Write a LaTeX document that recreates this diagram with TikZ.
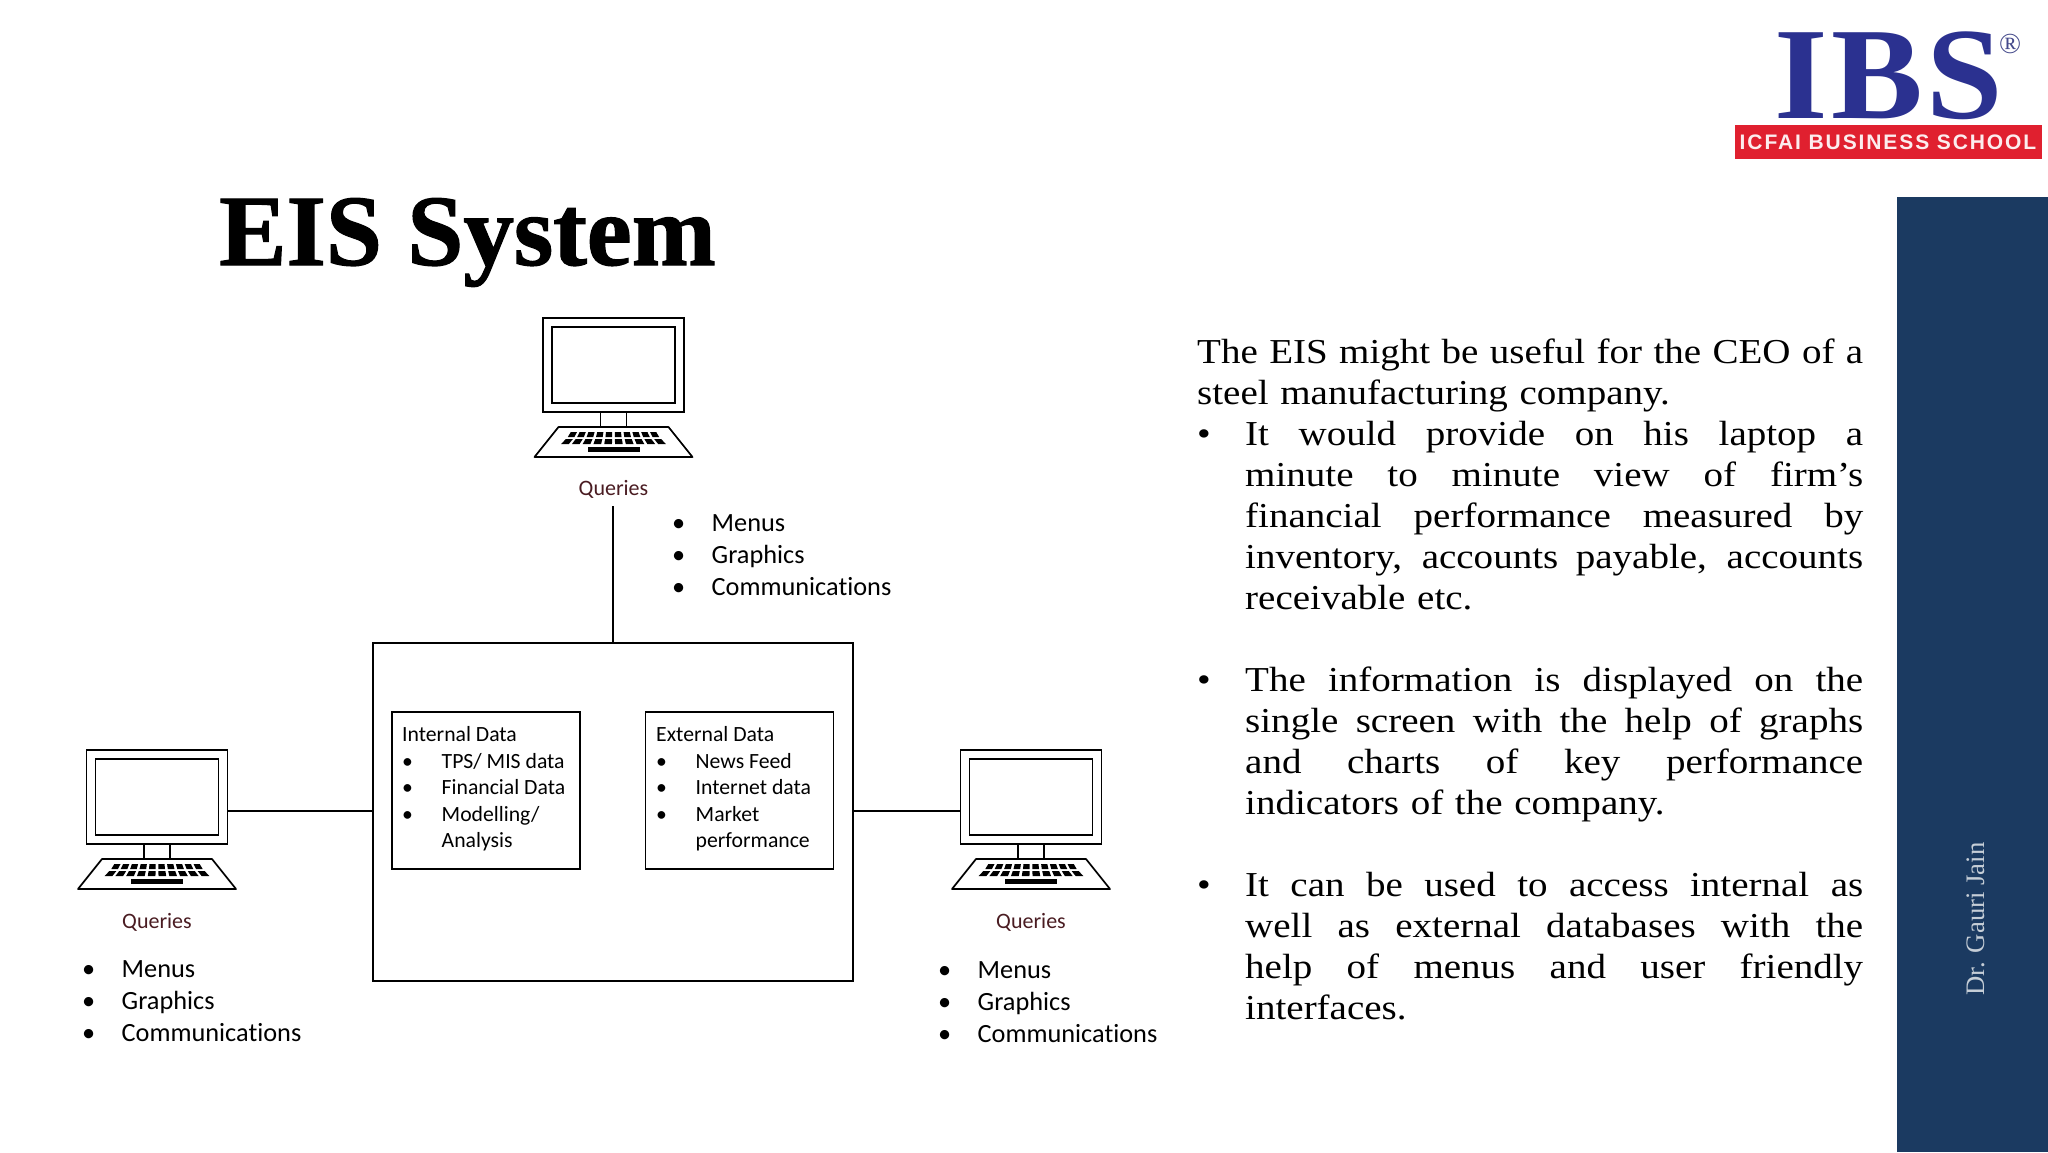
\documentclass[tikz,border=0pt]{standalone}
\usepackage{fontspec}
\setmainfont[Ligatures=CommonOff]{Carlito}
\newfontfamily\bodyf[FakeStretch=1.115]{Liberation Serif}
\newfontfamily\titlef[FakeBold=1.2]{Liberation Serif Bold}
\newfontfamily\logof[FakeStretch=1.05,LetterSpace=2.5]{Liberation Serif Bold}
\newfontfamily\logor{Liberation Serif}
\newfontfamily\bandf[LetterSpace=9]{Liberation Sans Bold}
\definecolor{navy}{HTML}{1B3A61}
\definecolor{maroon}{HTML}{4A1C22}
\definecolor{ibsblue}{HTML}{2B3190}
\definecolor{ibsred}{HTML}{E0202F}
\newcommand{\jline}[1]{\hbox to 618pt{\spaceskip=.25em plus 1fil\relax #1}}
\newcommand{\bline}[1]{\hbox to 666pt{\makebox[48pt][l]{•}\jline{#1}}\par}
\newcommand{\iline}[1]{\hbox to 666pt{\hspace*{48pt}\jline{#1}}\par}
\newcommand{\lastline}[1]{\hbox to 666pt{\hspace*{48pt}#1\hss}\par}
\newcommand{\menuitem}[1]{\makebox[39.5pt][l]{•}#1}
\newcommand{\dataitem}[1]{\makebox[39.5pt][l]{•}#1}
\begin{document}
\begin{tikzpicture}[x=1pt,y=-1pt,
  wire/.style={draw=black,line width=1.6pt},
  mon/.style={draw=black,line width=1.9pt,rectangle,inner sep=0pt},
  query/.style={inner sep=0pt,text=maroon,font=\fontsize{22}{26}\selectfont},
  menulist/.style={inner sep=0pt,anchor=west,align=left,font=\fontsize{26.3}{32}\selectfont},
  datalist/.style={inner sep=0pt,anchor=north west,align=left,font=\fontsize{21.7}{26.5}\selectfont},
  databox/.style={draw=black,line width=1.2pt,rectangle,inner sep=0pt,minimum height=157pt,minimum width=188pt},
  computer/.pic={
    \node[mon,minimum width=141pt,minimum height=94pt] (-mon) at (0,47) {};
    \node[mon,minimum width=123pt,minimum height=76pt] (-scr) at (0,47) {};
    \draw[line width=1.7pt] (-13,94) rectangle (13,109);
    \draw[line width=1.7pt,line join=round] (-55,109) -- (55,109) -- (79,139) -- (-79,139) -- cycle;
    \foreach \i in {0,...,9}{
      \pgfmathsetmacro{\a}{-44+8.8*\i+1.3}
      \pgfmathsetmacro{\b}{\a+6.2}
      \pgfmathsetmacro{\s}{1.07}
      \fill (\a,114) -- (\b,114) -- (\b*\s,119) -- (\a*\s,119) -- cycle;
      \pgfmathsetmacro{\c}{-49+9.8*\i+1.4}
      \pgfmathsetmacro{\d}{\c+7}
      \pgfmathsetmacro{\t}{1.1}
      \fill (\c,121) -- (\d,121) -- (\d*\t,126) -- (\c*\t,126) -- cycle;
    }
    \fill (-26,129) rectangle (26,133.5);
  }]
\useasboundingbox (0,0) rectangle (2048,1152);
\fill[white] (0,0) rectangle (2048,1152);
% sidebar and logo
\fill[navy] (1897,197) rectangle (2048,1152);
\node[rotate=90,inner sep=0pt,text=white!75!navy,font=\logor\fontsize{26.7}{28}\selectfont] (author) at (1976,919) {Dr. Gauri Jain};
\node[inner sep=0pt,anchor=base,text=ibsblue,font=\logof\fontsize{131}{131}\selectfont] (ibs) at (1889,118) {IBS};
\node[inner sep=0pt,text=ibsblue!70!gray,font=\logor\fontsize{29}{29}\selectfont] (reg) at (2010,44) {®};
\node[fill=ibsred,inner sep=0pt,minimum width=307pt,minimum height=34pt,text=white!92!ibsred,font=\bandf\fontsize{21}{24}\selectfont] (band) at (1888,142) {ICFAI BUSINESS SCHOOL};
% title
\node[inner sep=0pt,anchor=base west,font=\titlef\fontsize{101}{110}\selectfont] (title) at (219,265) {EIS System};
% computers
\pic (c1) at (613.5,318) {computer};
\pic (c2) at (157,750) {computer};
\pic (c3) at (1031,750) {computer};
\node[query] (q1) at (613.5,489.5) {Queries};
\node[query] (q2) at (157,922.5) {Queries};
\node[query] (q3) at (1031,922.5) {Queries};
% main box
\node[draw=black,line width=1.6pt,rectangle,inner sep=0pt,minimum width=480pt,minimum height=338pt] (main) at (613,812) {};
\node[databox] (int) at (486,790.5) {};
\node[databox] (ext) at (739.5,790.5) {};
\node[datalist] (intt) at (402,726.5) {Internal Data\\\dataitem{TPS/ MIS data}\\\dataitem{Financial Data}\\\dataitem{Modelling/}\\\hspace*{39.5pt}Analysis};
\node[datalist] (extt) at (656,726.5) {External Data\\\dataitem{News Feed}\\\dataitem{Internet data}\\\dataitem{Market}\\\hspace*{39.5pt}performance};
% menus
\node[menulist] (m1) at (672,555) {\menuitem{Menus}\\\menuitem{Graphics}\\\menuitem{Communications}};
\node[menulist] (m2) at (82,1001) {\menuitem{Menus}\\\menuitem{Graphics}\\\menuitem{Communications}};
\node[menulist] (m3) at (938,1002) {\menuitem{Menus}\\\menuitem{Graphics}\\\menuitem{Communications}};
% connectors
\coordinate (lv) at (0,811);
\coordinate (topend) at (613,506);
\draw[wire] (topend) -- (topend |- main.north);
\draw[wire] (c2-mon.east |- lv) -- (main.west |- lv);
\draw[wire] (main.east |- lv) -- (c3-mon.west |- lv);
% body text
\node[inner sep=0pt,anchor=north west,text width=666pt,font=\bodyf\fontsize{35}{41}\selectfont] (body) at (1197,339) {%
\hbox to 666pt{\spaceskip=.25em plus 1fil\relax The EIS might be useful for the CEO of a}\par
\hbox{steel manufacturing company.}\par
\bline{It would provide on his laptop a}
\iline{minute to minute view of firm’s}
\iline{financial performance measured by}
\iline{inventory, accounts payable, accounts}
\lastline{receivable etc.}
\mbox{}\par
\bline{The information is displayed on the}
\iline{single screen with the help of graphs}
\iline{and charts of key performance}
\lastline{indicators of the company.}
\mbox{}\par
\bline{It can be used to access internal as}
\iline{well as external databases with the}
\iline{help of menus and user friendly}
\lastline{interfaces.}};
\end{tikzpicture}
\end{document}
